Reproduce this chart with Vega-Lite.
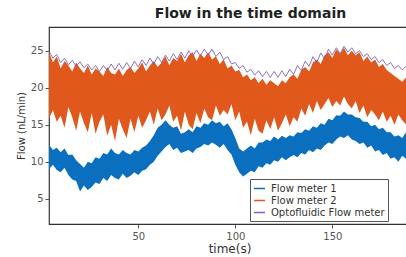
{
  "$schema": "https://vega.github.io/schema/vega-lite/v6.json",
  "autosize": "none",
  "padding": {"left": 49, "top": 27, "right": 0, "bottom": 33},
  "width": 361,
  "height": 197,
  "background": "white",
  "title": {"text": "Flow in the time domain", "anchor": "middle", "dx": 21, "offset": 6, "fontSize": 14, "fontWeight": "bold", "font": "DejaVu Sans", "color": "#222"},
  "config": {
    "view": {"stroke": "#333", "strokeWidth": 1.2},
    "axis": {"labelFont": "DejaVu Sans", "titleFont": "DejaVu Sans", "labelColor": "#555", "titleColor": "#333", "grid": false, "domain": false, "tickColor": "#555"}
  },
  "data": {"values": [
    {"t":4,"b1":9.0,"b2":12.3,"o1":15.8,"o2":24.8,"p":24.9},
    {"t":6,"b1":9.6,"b2":11.6,"o1":17.0,"o2":23.4,"p":24.0},
    {"t":8,"b1":8.9,"b2":11.9,"o1":15.4,"o2":24.2,"p":24.5},
    {"t":10,"b1":8.6,"b2":11.3,"o1":16.2,"o2":22.6,"p":23.4},
    {"t":12,"b1":9.2,"b2":11.8,"o1":14.6,"o2":23.6,"p":24.0},
    {"t":14,"b1":8.2,"b2":10.9,"o1":17.4,"o2":23.0,"p":23.1},
    {"t":16,"b1":7.6,"b2":11.0,"o1":16.0,"o2":22.2,"p":23.7},
    {"t":18,"b1":7.4,"b2":10.2,"o1":14.2,"o2":23.4,"p":22.9},
    {"t":20,"b1":6.0,"b2":9.7,"o1":16.8,"o2":22.6,"p":23.5},
    {"t":22,"b1":6.8,"b2":9.2,"o1":15.2,"o2":22.0,"p":22.7},
    {"t":24,"b1":6.2,"b2":10.0,"o1":14.0,"o2":23.0,"p":23.2},
    {"t":26,"b1":6.6,"b2":9.8,"o1":16.6,"o2":21.8,"p":22.4},
    {"t":28,"b1":7.2,"b2":10.6,"o1":13.8,"o2":22.6,"p":23.0},
    {"t":30,"b1":7.0,"b2":10.4,"o1":15.4,"o2":22.2,"p":22.2},
    {"t":32,"b1":7.8,"b2":11.2,"o1":16.4,"o2":21.6,"p":23.0},
    {"t":34,"b1":7.4,"b2":11.0,"o1":13.5,"o2":22.8,"p":22.3},
    {"t":36,"b1":8.2,"b2":11.8,"o1":15.0,"o2":22.0,"p":23.2},
    {"t":38,"b1":7.8,"b2":11.2,"o1":12.8,"o2":21.8,"p":22.4},
    {"t":40,"b1":7.6,"b2":11.0,"o1":15.8,"o2":22.6,"p":23.3},
    {"t":42,"b1":8.4,"b2":11.6,"o1":14.4,"o2":21.6,"p":22.5},
    {"t":44,"b1":7.8,"b2":11.2,"o1":13.2,"o2":22.4,"p":23.4},
    {"t":46,"b1":8.1,"b2":11.0,"o1":15.8,"o2":22.8,"p":22.6},
    {"t":48,"b1":8.6,"b2":11.6,"o1":14.0,"o2":22.0,"p":23.6},
    {"t":50,"b1":8.2,"b2":11.4,"o1":16.2,"o2":22.6,"p":22.8},
    {"t":52,"b1":8.8,"b2":11.9,"o1":14.6,"o2":23.4,"p":23.8},
    {"t":54,"b1":9.0,"b2":12.2,"o1":15.6,"o2":22.2,"p":23.0},
    {"t":56,"b1":9.6,"b2":12.8,"o1":16.8,"o2":23.0,"p":24.0},
    {"t":58,"b1":10.0,"b2":13.6,"o1":15.0,"o2":23.6,"p":23.2},
    {"t":60,"b1":10.8,"b2":14.6,"o1":17.2,"o2":22.8,"p":24.2},
    {"t":62,"b1":11.4,"b2":15.0,"o1":15.6,"o2":23.4,"p":23.4},
    {"t":64,"b1":12.0,"b2":15.6,"o1":16.4,"o2":24.2,"p":24.4},
    {"t":66,"b1":12.4,"b2":15.0,"o1":17.6,"o2":23.0,"p":23.6},
    {"t":68,"b1":11.6,"b2":14.6,"o1":15.4,"o2":24.0,"p":24.6},
    {"t":70,"b1":11.9,"b2":14.8,"o1":16.2,"o2":23.6,"p":23.8},
    {"t":72,"b1":11.2,"b2":13.8,"o1":14.2,"o2":24.6,"p":24.8},
    {"t":74,"b1":11.4,"b2":14.0,"o1":16.8,"o2":23.4,"p":24.0},
    {"t":76,"b1":11.6,"b2":14.4,"o1":15.0,"o2":24.4,"p":25.0},
    {"t":78,"b1":11.2,"b2":14.0,"o1":14.4,"o2":24.8,"p":24.2},
    {"t":80,"b1":11.8,"b2":14.8,"o1":16.6,"o2":23.6,"p":25.1},
    {"t":82,"b1":12.0,"b2":14.6,"o1":15.2,"o2":24.6,"p":24.3},
    {"t":84,"b1":12.4,"b2":15.2,"o1":17.2,"o2":24.0,"p":25.2},
    {"t":86,"b1":12.2,"b2":15.0,"o1":16.0,"o2":24.8,"p":24.4},
    {"t":88,"b1":12.6,"b2":15.6,"o1":15.6,"o2":23.8,"p":25.2},
    {"t":90,"b1":12.3,"b2":15.2,"o1":17.6,"o2":24.2,"p":24.2},
    {"t":92,"b1":11.9,"b2":15.4,"o1":16.2,"o2":23.2,"p":24.8},
    {"t":94,"b1":12.4,"b2":14.8,"o1":17.0,"o2":23.8,"p":23.8},
    {"t":96,"b1":11.6,"b2":15.2,"o1":16.4,"o2":22.6,"p":24.2},
    {"t":98,"b1":11.0,"b2":14.4,"o1":17.8,"o2":23.0,"p":23.2},
    {"t":100,"b1":9.6,"b2":13.2,"o1":15.6,"o2":22.2,"p":23.4},
    {"t":102,"b1":8.6,"b2":11.8,"o1":16.8,"o2":22.4,"p":22.6},
    {"t":104,"b1":8.0,"b2":11.4,"o1":14.6,"o2":21.4,"p":23.0},
    {"t":106,"b1":8.4,"b2":11.8,"o1":15.4,"o2":21.8,"p":22.1},
    {"t":108,"b1":8.8,"b2":12.2,"o1":13.6,"o2":21.0,"p":22.5},
    {"t":110,"b1":8.6,"b2":11.8,"o1":15.8,"o2":21.4,"p":21.7},
    {"t":112,"b1":9.4,"b2":12.6,"o1":14.2,"o2":20.6,"p":22.3},
    {"t":114,"b1":9.2,"b2":12.6,"o1":13.8,"o2":21.2,"p":21.5},
    {"t":116,"b1":9.8,"b2":13.0,"o1":15.6,"o2":20.4,"p":22.2},
    {"t":118,"b1":9.6,"b2":12.8,"o1":14.4,"o2":21.0,"p":21.4},
    {"t":120,"b1":10.2,"b2":13.4,"o1":16.0,"o2":20.6,"p":22.2},
    {"t":122,"b1":10.0,"b2":13.0,"o1":14.2,"o2":20.2,"p":21.4},
    {"t":124,"b1":10.6,"b2":13.5,"o1":15.2,"o2":21.0,"p":22.3},
    {"t":126,"b1":10.2,"b2":13.2,"o1":16.4,"o2":20.6,"p":21.5},
    {"t":128,"b1":10.6,"b2":13.6,"o1":14.8,"o2":21.4,"p":22.5},
    {"t":130,"b1":10.9,"b2":13.4,"o1":16.0,"o2":21.8,"p":21.8},
    {"t":132,"b1":10.6,"b2":14.0,"o1":15.4,"o2":21.2,"p":23.0},
    {"t":134,"b1":11.2,"b2":13.9,"o1":17.2,"o2":22.4,"p":22.3},
    {"t":136,"b1":11.0,"b2":14.4,"o1":16.2,"o2":22.8,"p":23.6},
    {"t":138,"b1":11.6,"b2":14.2,"o1":17.8,"o2":22.2,"p":22.9},
    {"t":140,"b1":11.3,"b2":14.8,"o1":16.6,"o2":23.4,"p":24.2},
    {"t":142,"b1":11.8,"b2":14.6,"o1":18.2,"o2":23.8,"p":23.4},
    {"t":144,"b1":11.6,"b2":15.2,"o1":17.0,"o2":23.2,"p":24.7},
    {"t":146,"b1":12.2,"b2":15.0,"o1":17.8,"o2":24.4,"p":23.9},
    {"t":148,"b1":12.6,"b2":15.8,"o1":18.6,"o2":24.8,"p":25.2},
    {"t":150,"b1":12.4,"b2":15.6,"o1":17.4,"o2":24.0,"p":24.4},
    {"t":152,"b1":13.0,"b2":16.3,"o1":18.2,"o2":25.2,"p":25.4},
    {"t":154,"b1":13.4,"b2":16.2,"o1":17.6,"o2":24.6,"p":24.6},
    {"t":156,"b1":13.2,"b2":16.8,"o1":18.8,"o2":25.4,"p":25.6},
    {"t":158,"b1":13.6,"b2":16.4,"o1":17.8,"o2":24.4,"p":24.8},
    {"t":160,"b1":13.0,"b2":16.4,"o1":17.2,"o2":25.0,"p":25.4},
    {"t":162,"b1":12.8,"b2":16.0,"o1":18.2,"o2":24.4,"p":24.6},
    {"t":164,"b1":12.4,"b2":15.9,"o1":16.6,"o2":24.8,"p":25.0},
    {"t":166,"b1":12.6,"b2":15.4,"o1":17.6,"o2":23.6,"p":24.2},
    {"t":168,"b1":11.9,"b2":15.4,"o1":16.0,"o2":24.2,"p":24.6},
    {"t":170,"b1":12.2,"b2":14.8,"o1":17.0,"o2":23.4,"p":23.8},
    {"t":172,"b1":11.4,"b2":15.0,"o1":16.4,"o2":23.8,"p":24.2},
    {"t":174,"b1":11.6,"b2":14.4,"o1":15.6,"o2":22.8,"p":23.4},
    {"t":176,"b1":10.9,"b2":14.6,"o1":16.8,"o2":23.2,"p":23.8},
    {"t":178,"b1":11.2,"b2":14.0,"o1":15.4,"o2":22.4,"p":23.0},
    {"t":180,"b1":10.4,"b2":14.0,"o1":16.2,"o2":22.0,"p":23.4},
    {"t":182,"b1":10.6,"b2":13.4,"o1":15.0,"o2":21.6,"p":22.6},
    {"t":184,"b1":10.0,"b2":13.6,"o1":16.4,"o2":21.2,"p":23.0},
    {"t":186,"b1":10.8,"b2":13.2,"o1":15.6,"o2":20.8,"p":22.4},
    {"t":188,"b1":10.4,"b2":14.0,"o1":15.0,"o2":21.4,"p":22.9}
  ]},
  "encoding": {
    "x": {"field": "t", "type": "quantitative", "scale": {"domain": [4, 190], "nice": false, "zero": false},
          "axis": {"values": [50, 100, 150], "title": "time(s)", "titleFontSize": 12, "titleFontWeight": "normal", "labelFontSize": 10, "tickSize": 4, "titlePadding": 2, "labelPadding": 3}}
  },
  "layer": [
    {
      "mark": {"type": "area", "color": "#0b6fbf", "interpolate": "linear"},
      "encoding": {
        "y": {"field": "b1", "type": "quantitative", "scale": {"domain": [1.6, 28.2], "nice": false, "zero": false},
              "axis": {"values": [5, 10, 15, 20, 25], "title": "Flow (nL/min)", "titleFontSize": 10, "titleFontWeight": "normal", "labelFontSize": 10, "tickSize": 4, "titlePadding": 4}},
        "y2": {"field": "b2"}
      }
    },
    {
      "mark": {"type": "area", "color": "#e0581c", "interpolate": "linear"},
      "encoding": {
        "y": {"field": "o1", "type": "quantitative"},
        "y2": {"field": "o2"}
      }
    },
    {
      "mark": {"type": "line", "strokeWidth": 0.9, "interpolate": "linear"},
      "encoding": {
        "y": {"field": "p", "type": "quantitative"},
        "color": {"datum": "Optofluidic Flow meter", "type": "nominal",
                  "scale": {"domain": ["Flow meter 1", "Flow meter 2", "Optofluidic Flow meter"], "range": ["#0b6fbf", "#e0581c", "#8163b8"]},
                  "legend": {"title": null, "orient": "none", "legendX": 201, "legendY": 152, "symbolType": "stroke", "symbolSize": 120, "symbolStrokeWidth": 1.5, "labelFontSize": 10, "labelFont": "DejaVu Sans", "labelColor": "#333", "strokeColor": "#555", "fillColor": "white", "padding": 3, "rowPadding": 0, "labelOffset": 5}}
      }
    }
  ]
}
